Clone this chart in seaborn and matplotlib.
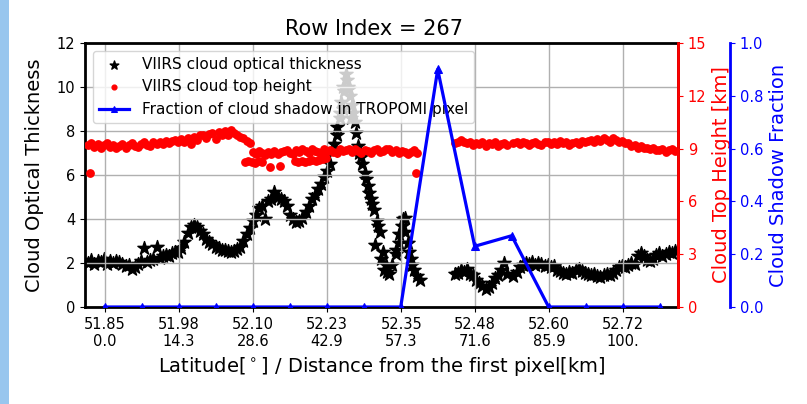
import numpy as np
import pandas as pd
import matplotlib
matplotlib.use("Agg")
import matplotlib.pyplot as plt
import seaborn as sns
from matplotlib.patches import Rectangle

nan = np.nan

# x ticks: distance from the first pixel (km) with latitude / distance labels
tick_km = [0.0, 14.3, 28.6, 42.9, 57.3, 71.6, 85.9, 100.2]
tick_lat = ["51.85", "51.98", "52.10", "52.23", "52.35", "52.48", "52.60", "52.72"]
tick_dist = ["0.0", "14.3", "28.6", "42.9", "57.3", "71.6", "85.9", "100."]

# VIIRS samples along the row: first sample distance and spacing (km)
viirs_start_km = -3.2
viirs_step_km = 0.6

# VIIRS cloud optical thickness
cot = [
    2.0, 2.15, 1.95, 2.1, 2.05, 2.2, 1.95, 2.1, 2.0, 2.1,
    2.05, 1.95, 1.85, 1.9, 1.75, 1.8, 1.95, 2.1, 2.7, 2.05,
    2.15, 2.2, 2.75, 2.25, 2.3, 2.35, 2.3, 2.45, 2.5, 2.5,
    2.7, 2.95, 3.35, 3.65, 3.75, 3.65, 3.45, 3.3, 3.1, 2.95,
    2.85, 2.75, 2.7, 2.6, 2.6, 2.55, 2.5, 2.55, 2.65, 2.75,
    3.0, 3.3, 3.6, 3.9, 4.2, 4.5, 4.6, 4.0, 4.8, 4.9,
    5.25, 5.0, 4.9, 4.8, 4.6, 4.2, 4.0, 3.85, 3.9, 4.05,
    4.3, 4.6, 4.9, 5.1, 5.35, 5.6, 5.9, 6.2, 6.5, 7.1,
    7.8, 8.6, 10.0, 10.6, 9.9, 9.2, 8.4, 7.3, 6.8, 6.1,
    5.5, 4.9, 4.4, 3.9, 3.4, 2.5, 1.9, 1.5, 1.9, 2.4,
    2.9, 3.7, 4.05, 2.9, 2.2, 1.7, 1.4, 1.25, nan, nan,
    nan, nan, nan, nan, nan, nan, nan, nan, 1.5, 1.55,
    1.7, 1.6, 1.75, 1.5, 1.45, 1.25, 1.1, 0.95, 0.8, 0.9,
    1.1, 1.3, 1.45, 1.7, 2.0, 1.5, nan, 1.4, 1.6, 1.8,
    1.9, 2.0, 1.95, 2.05, 1.9, 2.0, 1.95, 1.85, 1.9, 1.8,
    1.85, 1.7, 1.65, 1.55, 1.5, 1.6, 1.55, 1.7, 1.75, 1.65,
    1.55, 1.5, 1.45, 1.5, 1.4, 1.35, 1.45, 1.5, 1.45, 1.55,
    1.7, 1.8, 1.85, 1.8, 1.9, 2.0, 1.95, 2.3, 2.45, 2.3,
    2.15, 2.1, 2.2, 2.35, 2.45, 2.3, 2.4, 2.5, 2.45, 2.55,
]

# additional optical-thickness samples around the thick cloud core
cot_core_km = [44.39, 44.97, 45.45, 45.64, 46.03, 46.32, 46.80, 47.09, 47.38,
               47.57, 47.96, 48.64, 49.22, 49.80, 50.47, 51.05, 51.63, 52.21,
               52.79, 53.37, 53.95, 54.53, 56.37, 56.95, 57.63, 58.11, 58.79,
               59.36]
cot_core = [7.4, 8.2, 8.8, 9.3, 9.0, 9.8, 10.3, 10.0, 9.6,
            8.6, 8.8, 7.9, 7.0, 6.5, 5.8, 5.2, 4.7, 2.8,
            3.7, 2.2, 1.7, 1.6, 2.6, 3.3, 4.0, 3.4, 2.5,
            1.9]

# VIIRS cloud top height (km)
cth = [
    9.2, 9.3, 9.1, 9.25, 9.05, 9.2, 9.3, 9.1, 9.2, 9.05,
    9.15, 9.25, 9.05, 9.2, 9.3, 9.15, 9.1, 9.25, 9.35, 9.2,
    9.15, 9.35, 9.25, 9.4, 9.25, 9.45, 9.3, 9.45, 9.5, 9.35,
    9.55, 9.4, 9.6, 9.25, 9.65, 9.5, 9.75, 9.8, 9.6, 9.85,
    9.9, 9.55, 9.95, 9.8, 10.0, 9.8, 10.05, 9.9, 9.75, 9.65,
    9.6, 9.45, 9.3, 8.8, 8.7, 8.85, 8.75, 8.65, 8.8, 8.7,
    8.85, 8.7, 8.8, 8.85, 8.9, 8.75, 8.7, 8.9, 8.8, 8.95,
    8.85, 8.75, 8.95, 8.85, 8.8, 8.7, 8.95, 8.85, 8.9, 8.8,
    8.75, 8.95, 8.85, 8.9, 9.0, 8.8, 8.95, 8.85, 8.75, 8.9,
    8.85, 8.75, 8.9, 8.95, 8.8, 8.85, 8.95, 9.0, 8.8, 8.9,
    8.75, 8.85, 8.8, 8.7, 8.8, 8.9, 8.75, nan, nan, nan,
    nan, nan, nan, nan, nan, nan, nan, nan, 9.3, 9.4,
    9.5, 9.4, 9.3, 9.35, 9.2, 9.3, 9.25, 9.35, 9.15, 9.3,
    9.25, 9.35, 9.15, 9.25, 9.3, 9.2, nan, 9.3, 9.4, 9.25,
    9.35, 9.3, 9.2, 9.3, 9.4, 9.25, 9.2, 9.35, 9.4, 9.25,
    9.35, 9.25, 9.45, 9.3, 9.35, 9.2, 9.3, 9.4, 9.25, 9.45,
    9.35, 9.45, 9.5, 9.35, 9.55, 9.45, 9.6, 9.5, 9.4, 9.6,
    9.5, 9.4, 9.45, 9.3, 9.3, 9.15, 9.2, 9.05, 9.15, 9.05,
    9.05, 8.95, 9.05, 8.9, 8.9, 9.0, 8.8, 8.9, 8.95, 8.85,
]

# lower cloud-top layer and isolated low cloud tops
cth_low_km = [-2.86, 27.07, 27.77, 28.44, 29.12, 29.80, 30.47, 31.92, 33.86,
              36.75, 37.43, 38.11, 38.78, 39.46, 40.14, 40.81, 41.49, 42.16,
              42.84, 60.13]
cth_low = [7.63, 8.25, 8.3, 8.25, 8.2, 8.3, 8.25, 7.95, 8.0,
           8.3, 8.25, 8.3, 8.25, 8.3, 8.35, 8.3, 8.35, 8.4,
           8.45, 7.6]

# TROPOMI pixel centres (km) and cloud shadow fraction
tropomi_km = [0.0, 7.15, 14.3, 21.45, 28.6, 35.75, 42.9, 50.05, 57.2, 64.35,
              71.5, 78.65, 85.8, 92.95, 100.1, 107.25]
shadow_frac = [0, 0, 0, 0, 0, 0, 0, 0, 0, 0.9, 0.23, 0.27, 0, 0, 0, 0]

viirs = pd.DataFrame({
    "km": viirs_start_km + viirs_step_km * np.arange(len(cot)),
    "cot": cot,
    "cth": cth,
})
core = pd.DataFrame({"km": cot_core_km, "cot": cot_core})
low = pd.DataFrame({"km": cth_low_km, "cth": cth_low})
trop = pd.DataFrame({"km": tropomi_km, "frac": shadow_frac})

W, H = 807, 404
fig = plt.figure(figsize=(W / 100, H / 100), dpi=100)
fig.add_artist(Rectangle((0, 0), 9 / W, 1, transform=fig.transFigure,
                         color="#98c6ee", lw=0, zorder=-5))
ax1 = fig.add_axes([85 / W, 1 - 307 / H, 593 / W, 264 / H])
ax2 = ax1.twinx()
ax3 = ax1.twinx()
ax3.spines["right"].set_position(("axes", 1 + 52 / 593))

star_kw = dict(marker="*", s=100, color="black", edgecolor="black", linewidth=1)
dot_kw = dict(marker="o", s=28, color="red", edgecolor="red", linewidth=1)
sns.scatterplot(data=viirs, x="km", y="cot", ax=ax1,
                label="VIIRS cloud optical thickness", **star_kw)
sns.scatterplot(data=core, x="km", y="cot", ax=ax1, **star_kw)
sns.scatterplot(data=viirs, x="km", y="cth", ax=ax2,
                label="VIIRS cloud top height", **dot_kw)
sns.scatterplot(data=low, x="km", y="cth", ax=ax2, **dot_kw)
sns.lineplot(data=trop, x="km", y="frac", color="blue", marker="^", ms=6,
             lw=2.3, markeredgecolor="blue", ax=ax3,
             label="Fraction of cloud shadow in TROPOMI pixel")

for ax in (ax1, ax2, ax3):
    lg = ax.get_legend()
    if lg is not None:
        lg.remove()

ax1.set_xlim(-3.83, 110.8)
ax1.set_ylim(0, 12)
ax2.set_ylim(0, 15)
ax3.set_ylim(0, 1.0)

ax1.set_xticks(tick_km, [f"{a}\n{b}" for a, b in zip(tick_lat, tick_dist)])
ax1.set_yticks(np.arange(0, 13, 2))
ax2.set_yticks(np.arange(0, 16, 3))
ax3.set_yticks(np.linspace(0, 1, 6))
ax1.grid(True, color="#b0b0b0", lw=1)

ax1.tick_params(labelsize=10.5)
ax2.tick_params(axis="y", colors="red", labelsize=10.5)
ax3.tick_params(axis="y", colors="blue", labelsize=10.5)

for s in ax1.spines.values():
    s.set_linewidth(2)
    s.set_color("black")
for ax, c in ((ax2, "red"), (ax3, "blue")):
    for name in ("left", "top", "bottom"):
        ax.spines[name].set_visible(False)
    ax.spines["right"].set_color(c)
    ax.spines["right"].set_linewidth(2)

ax1.set_xlabel("Latitude[$^\\circ$] / Distance from the first pixel[km]", fontsize=14)
ax1.set_ylabel("Cloud Optical Thickness", fontsize=14, labelpad=9)
ax2.set_ylabel("Cloud Top Height [km]", color="red", fontsize=14)
ax3.set_ylabel("Cloud Shadow Fraction", color="blue", fontsize=14)
ax1.set_title("Row Index = 267", fontsize=15, x=0.488)

h1, l1 = ax1.get_legend_handles_labels()
h2, l2 = ax2.get_legend_handles_labels()
h3, l3 = ax3.get_legend_handles_labels()
ax1.legend(h1 + h2 + h3, l1 + l2 + l3, loc="upper left", fontsize=11,
           framealpha=0.8, markerscale=0.65)

fig.savefig("out.png", dpi=100)
